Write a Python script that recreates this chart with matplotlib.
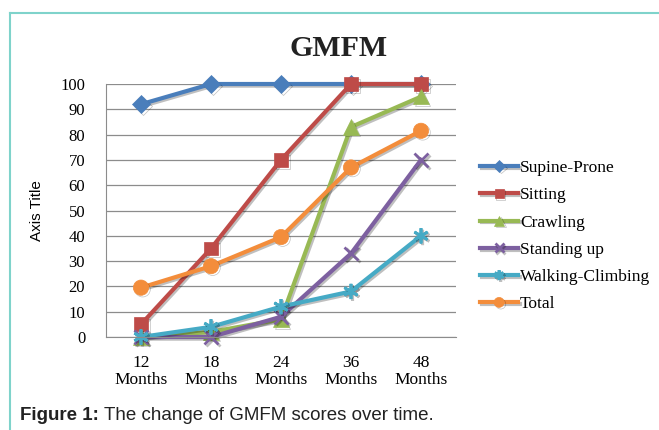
import matplotlib.pyplot as plt
from matplotlib.lines import Line2D
import matplotlib.patheffects as pe

months = ["12\nMonths", "18\nMonths", "24\nMonths", "36\nMonths", "48\nMonths"]
supine_prone = [92, 100, 100, 100, 100]
sitting = [5, 35, 70, 100, 100]
crawling = [0, 2, 7, 83, 95]
standing_up = [0, 0, 8, 33, 70]
walking_climbing = [0, 4, 12, 18, 40]
total = [19.5, 28, 39.5, 67, 81.5]

series = [
    ("Supine-Prone", supine_prone, "#4A7EBB", "D", 9),
    ("Sitting", sitting, "#BE4B48", "s", 10),
    ("Crawling", crawling, "#98B954", "^", 11),
    ("Standing up", standing_up, "#7D60A0", "x", 10),
    ("Walking-Climbing", walking_climbing, "#46AAC5", (6, 2, 0), 11),
    ("Total", total, "#F38D3B", "o", 11),
]

serif = "Liberation Serif"
fig = plt.figure(figsize=(6.59, 4.30), dpi=100)
ax = fig.add_axes([106/659, 1-337/430, 350/659, 253/430])

x = list(range(len(months)))
shadow = [pe.SimpleLineShadow(offset=(1.2, -1.2), alpha=0.25), pe.Normal()]
for name, vals, col, mk, ms in series:
    lw_m = 2 if mk in ("x", (6, 2, 0)) else 0.5
    ax.plot(x, vals, color=col, lw=3, marker=mk, ms=ms, mec=col,
            mew=lw_m, label=name, path_effects=shadow, clip_on=False)

ax.set_xlim(-0.5, 4.5)
ax.set_ylim(0, 100)
ax.set_yticks(range(0, 101, 10))
ax.set_xticks(x)
ax.set_xticklabels(months, family=serif, fontsize=12.5, linespacing=1.1)
for t in ax.get_yticklabels():
    t.set_family(serif)
    t.set_fontsize(12)
ax.yaxis.grid(True, color="#8c8c8c", lw=0.9)
ax.set_axisbelow(True)
for s in ["top", "right"]:
    ax.spines[s].set_visible(False)
ax.spines["bottom"].set_color("#8c8c8c")
ax.spines["left"].set_color("#8c8c8c")
ax.tick_params(axis="x", length=0, pad=13)
ax.tick_params(axis="y", length=0, pad=15)
ax.set_ylabel("Axis Title", family="Liberation Sans", fontsize=11, labelpad=12)

fig.text(339/659, 1-48/430, "GMFM", family=serif, fontsize=21.5, fontweight="bold",
         ha="center", va="center", color="#222222")

leg = ax.legend(loc="upper left", bbox_to_anchor=(480/659, 1-160/430),
                bbox_transform=fig.transFigure, frameon=False,
                prop={"family": serif, "size": 12.5}, labelspacing=0.64,
                handlelength=2.2, handletextpad=0.1, borderaxespad=0,
                borderpad=0, markerscale=0.65)

cap_y = 1-415/430
bold = fig.text(20/659, cap_y, "Figure 1:", family="Liberation Sans", fontsize=13.5,
                fontweight="bold", va="center", color="#222222")
fig.canvas.draw()
bb = bold.get_window_extent()
fig.text((bb.x1 + 5)/659, cap_y, "The change of GMFM scores over time.",
         family="Liberation Sans", fontsize=13.5, va="center", color="#222222")

frame_col = "#7FD3CB"
fig.add_artist(Line2D([10/659, 1], [1-13/430, 1-13/430], color=frame_col, lw=1.5))
fig.add_artist(Line2D([10/659, 10/659], [0, 1-13/430], color=frame_col, lw=1.5))

fig.savefig("out.png", dpi=100)
